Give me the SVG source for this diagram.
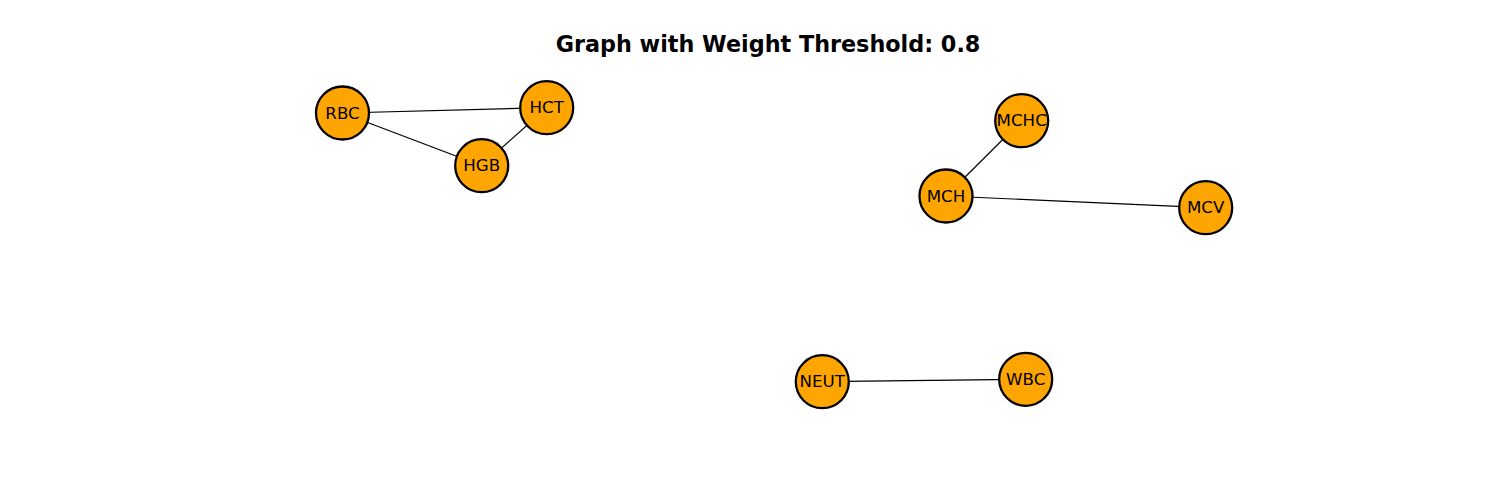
<svg xmlns="http://www.w3.org/2000/svg" width="1500" height="500" viewBox="0 0 1500 500">
<style>
.node circle{fill:#FFA500;stroke:#000;stroke-width:2.3}
.node text{font-family:"DejaVu Sans",sans-serif;font-size:16.67px;fill:#000;text-anchor:middle;dominant-baseline:central}
.edge{stroke:#000;stroke-width:1.2}
.title{font-family:"DejaVu Sans",sans-serif;font-weight:bold;font-size:22.3px;text-anchor:middle}
</style>
<rect width="1500" height="500" fill="#fff"/>
<text class="title" x="768" y="52">Graph with Weight Threshold: 0.8</text>
<g id="edges">
<line class="edge" x1="342.5" y1="113" x2="546.7" y2="107.7"/>
<line class="edge" x1="342.5" y1="113" x2="481.7" y2="165.7"/>
<line class="edge" x1="546.7" y1="107.7" x2="481.7" y2="165.7"/>
<line class="edge" x1="1021.7" y1="120.7" x2="946" y2="196"/>
<line class="edge" x1="946" y1="196" x2="1205.7" y2="207.7"/>
<line class="edge" x1="822.3" y1="381.7" x2="1025.7" y2="379.3"/>
</g>
<g id="node-RBC" class="node"><circle cx="342.5" cy="113" r="26.5"/><text x="342.5" y="113">RBC</text></g>
<g id="node-HCT" class="node"><circle cx="546.7" cy="107.7" r="26.5"/><text x="546.7" y="107.7">HCT</text></g>
<g id="node-HGB" class="node"><circle cx="481.7" cy="165.7" r="26.5"/><text x="481.7" y="165.7">HGB</text></g>
<g id="node-MCHC" class="node"><circle cx="1021.7" cy="120.7" r="26.5"/><text x="1021.7" y="120.7">MCHC</text></g>
<g id="node-MCH" class="node"><circle cx="946" cy="196" r="26.5"/><text x="946" y="196">MCH</text></g>
<g id="node-MCV" class="node"><circle cx="1205.7" cy="207.7" r="26.5"/><text x="1205.7" y="207.7">MCV</text></g>
<g id="node-NEUT" class="node"><circle cx="822.3" cy="381.7" r="26.5"/><text x="822.3" y="381.7">NEUT</text></g>
<g id="node-WBC" class="node"><circle cx="1025.7" cy="379.3" r="26.5"/><text x="1025.7" y="379.3">WBC</text></g>
</svg>
